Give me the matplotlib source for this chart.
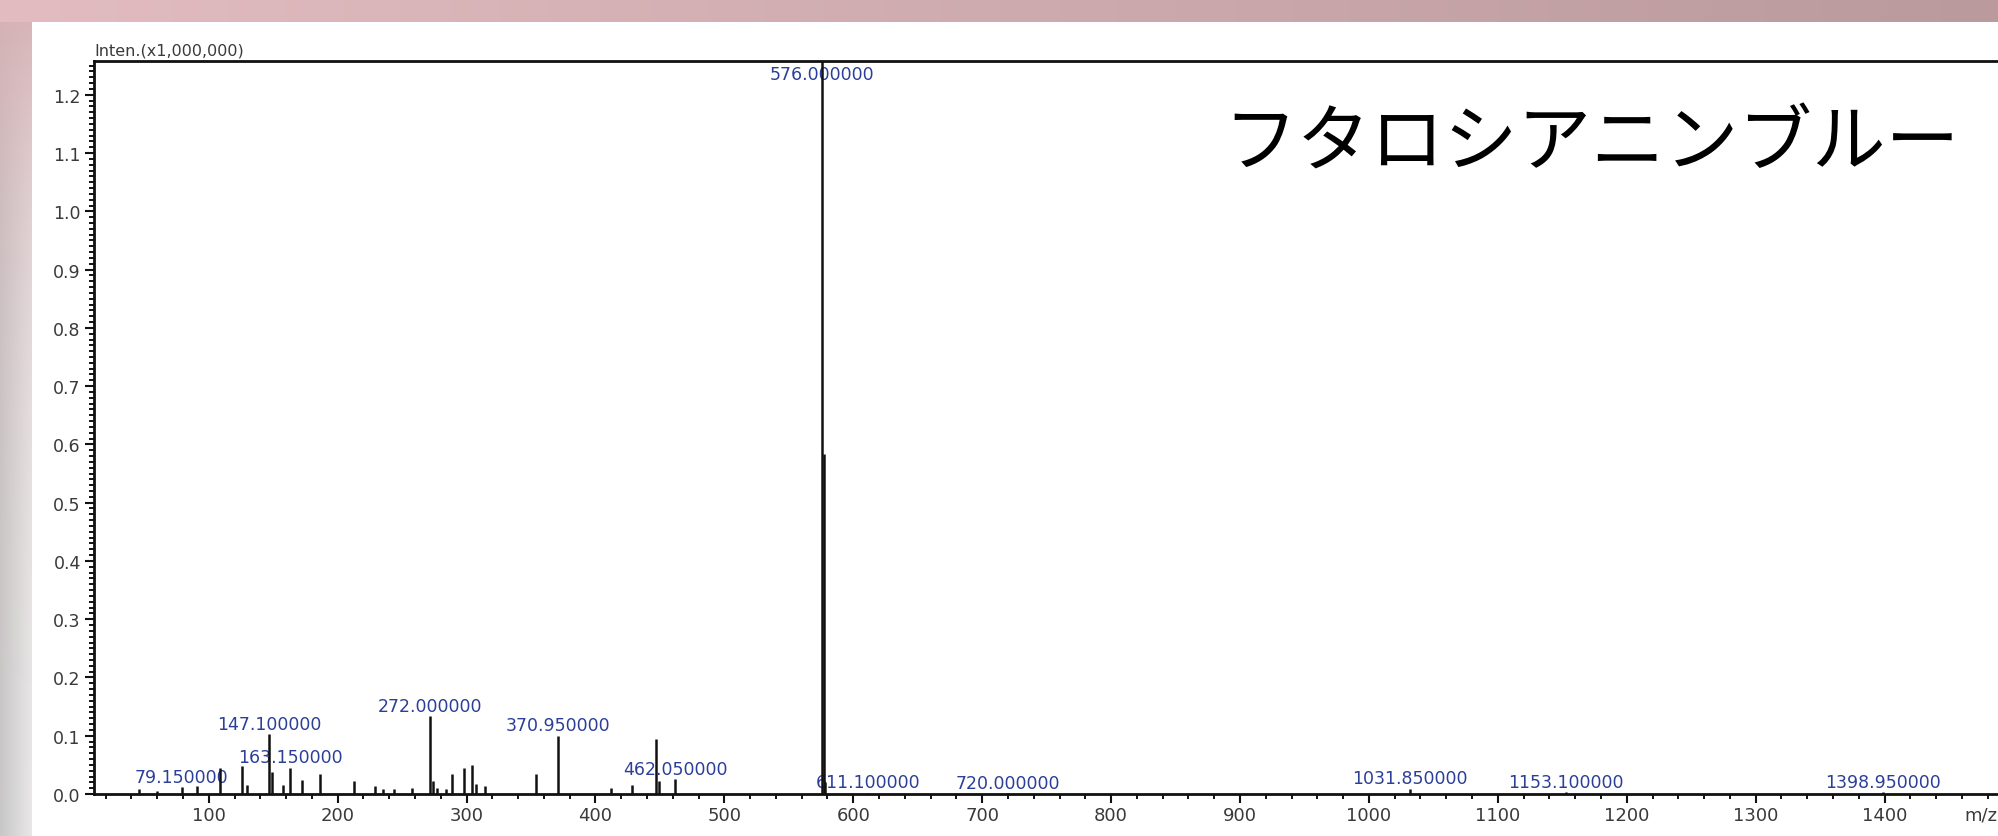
import numpy as np
import matplotlib
matplotlib.use("Agg")
import matplotlib.pyplot as plt
from matplotlib.ticker import MultipleLocator, FormatStrFormatter
import matplotlib.transforms as mtransforms

plt.rcParams['font.family'] = ['DejaVu Sans', 'Noto Sans CJK JP']

# peak list (m/z, intensity x1,000,000)
mz = [46, 60, 79.15, 91, 109, 126, 130, 147.1, 149, 158, 163.15, 172, 186,
      213, 229, 235, 244, 258, 272.0, 274, 277, 284, 289, 298, 304, 307, 314,
      354, 370.95, 412, 428, 447, 449, 462.05, 576.0, 577, 578,
      611.1, 720.0, 1031.85, 1153.1, 1398.95]
inten = [0.008, 0.005, 0.012, 0.014, 0.044, 0.048, 0.015, 0.103, 0.038, 0.016,
         0.045, 0.024, 0.034, 0.023, 0.014, 0.008, 0.008, 0.010, 0.134, 0.022,
         0.010, 0.008, 0.034, 0.044, 0.050, 0.018, 0.014, 0.034, 0.100, 0.010,
         0.015, 0.095, 0.022, 0.025, 1.30, 0.584, 0.02,
         0.002, 0.001, 0.009, 0.003, 0.003]

# labelled peaks
label_mz = [79.15, 147.1, 163.15, 272.0, 370.95, 462.05, 576.0, 611.1, 720.0,
            1031.85, 1153.1, 1398.95]

title = "フタロシアニンブルー"
W, H = 1998, 837

# background frame (pink top band, gray left band, white panel)
yy, xx = np.mgrid[0:H, 0:W]
img = np.ones((H, W, 3))
pink_l = np.array([226, 188, 192]) / 255
pink_r = np.array([186, 154, 157]) / 255
t = (xx / W)[..., None]
top_band = pink_l * (1 - t) + pink_r * t
gray = (200 + 32 * np.clip(xx / 30, 0, 1)) / 255
left_band = np.repeat(gray[..., None], 3, axis=2)
w = np.exp(-yy / 260.0)[..., None]
left_band = left_band * (1 - w) + (np.array([214, 176, 180]) / 255) * w
img = np.where((yy < 23)[..., None], top_band, img)
img = np.where(((xx < 32) & (yy >= 23))[..., None], left_band, img)

fig = plt.figure(figsize=(W / 100, H / 100), dpi=100)
bg = fig.add_axes([0, 0, 1, 1])
bg.imshow(img, aspect='auto', interpolation='bilinear')
bg.axis('off')

x0, x1 = 94, 1998
y0, y1 = 62, 795
ax = fig.add_axes([x0 / W, (H - y1) / H, (x1 - x0) / W, (y1 - y0) / H])
ax.patch.set_alpha(0)
ymax = 1.258
ax.set_xlim(11, 1488)
ax.set_ylim(0, ymax)

ax.vlines(mz, 0, inten, colors='#111111', linewidth=1.8, zorder=3)

label_color = '#2c3f98'
for m in label_mz:
    v = inten[mz.index(m)]
    txt = "%.6f" % m
    if v >= ymax:
        ax.text(m, ymax * 0.995, txt, ha='center', va='top', fontsize=12.5,
                color=label_color, zorder=2)
    else:
        ax.annotate(txt, (m, v), xytext=(0, 1), textcoords='offset points',
                    ha='center', va='bottom', fontsize=12.5, color=label_color,
                    zorder=2, bbox=dict(facecolor='white', edgecolor='none',
                                        pad=0.5, alpha=0.8))

for side in ['left', 'bottom', 'top']:
    ax.spines[side].set_linewidth(2.0)
    ax.spines[side].set_color('#111111')
    ax.spines[side].set_zorder(5)
ax.spines['right'].set_visible(False)

ax.xaxis.set_major_locator(MultipleLocator(100))
ax.xaxis.set_minor_locator(MultipleLocator(20))
ax.yaxis.set_major_locator(MultipleLocator(0.1))
ax.yaxis.set_minor_locator(MultipleLocator(0.01))
ax.yaxis.set_major_formatter(FormatStrFormatter('%.1f'))
ax.tick_params(axis='both', which='major', direction='out', length=6.5,
               width=1.5, color='#111111', labelcolor='#3a3a3a')
ax.tick_params(axis='both', which='minor', direction='out', length=3.5,
               width=1.4, color='#111111')
ax.tick_params(axis='x', which='major', labelsize=13, pad=2)
ax.tick_params(axis='y', which='major', labelsize=12.5, pad=3)
ax.set_xticks([t for t in ax.get_xticks() if 100 <= t <= 1400])

# m/z sits at the tick-label level, right end of the axis
trans = mtransforms.offset_copy(
    mtransforms.blended_transform_factory(ax.transData, ax.transAxes),
    fig=fig, y=-8.5, units='points')
ax.text(1462, 0, "m/z", transform=trans, ha='left', va='top',
        fontsize=13, color='#3a3a3a')
ax.text(0.0, 1.005, "Inten.(x1,000,000)", transform=ax.transAxes,
        ha='left', va='bottom', fontsize=11.5, color='#3a3a3a')

fig.text(1223 / W, 1 - 145 / H, title, ha='left', va='center', fontsize=53,
         family=['Noto Sans CJK JP', 'DejaVu Sans'], color='black')

fig.savefig("out.png", dpi=100)
